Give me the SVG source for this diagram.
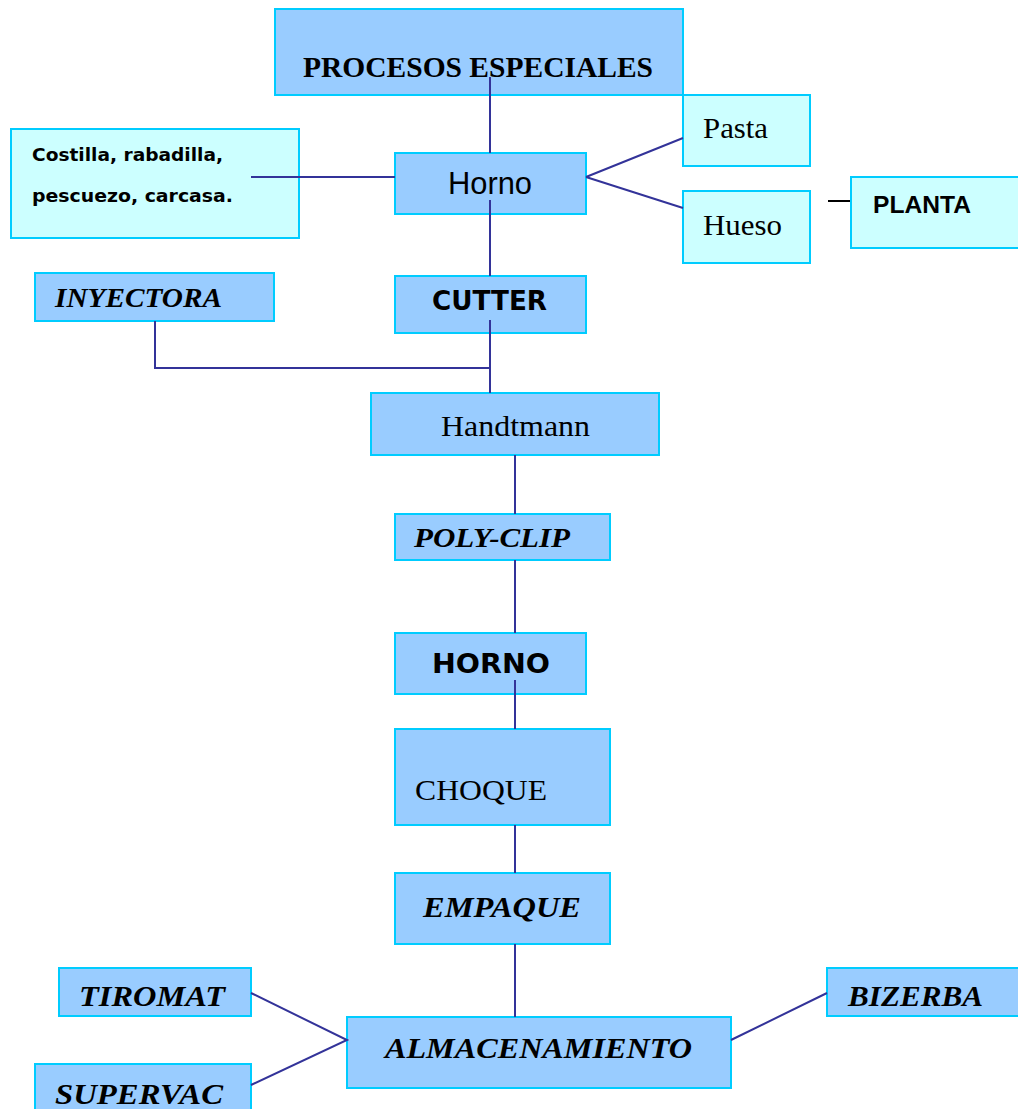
<svg xmlns="http://www.w3.org/2000/svg" width="1018" height="1109" viewBox="0 0 1018 1109">
<style>
.b{fill:#99CCFF;stroke:#00CCFF;stroke-width:2}
.l{fill:#CCFFFF;stroke:#00CCFF;stroke-width:2}
.c{stroke:#333399;stroke-width:2;fill:none}
.serif{font-family:"Liberation Serif","Times New Roman",serif;fill:#000}
.sans{font-family:"Liberation Sans",Arial,sans-serif;fill:#000}
.ver{font-family:"DejaVu Sans",Verdana,sans-serif;font-weight:bold;fill:#000}
.bi{font-family:"Liberation Serif","Times New Roman",serif;font-weight:bold;font-style:italic;fill:#000}
</style>
<rect width="1018" height="1109" fill="#fff"/>
<g id="n-procesos"><rect class="b" x="275" y="9" width="408" height="86"/><text class="serif" font-weight="bold" x="303" y="77" font-size="30" textLength="350" lengthAdjust="spacingAndGlyphs">PROCESOS ESPECIALES</text></g>
<g id="n-costilla"><rect class="l" x="11" y="129" width="288" height="109"/><text class="ver" x="32" y="161" font-size="18" textLength="191" lengthAdjust="spacingAndGlyphs">Costilla, rabadilla,</text><text class="ver" x="32" y="202" font-size="18" textLength="201" lengthAdjust="spacingAndGlyphs">pescuezo, carcasa.</text></g>
<g id="n-horno1"><rect class="b" x="395" y="153" width="191" height="61"/><text class="sans" x="448" y="194" font-size="31" textLength="84" lengthAdjust="spacingAndGlyphs">Horno</text></g>
<g id="n-pasta"><rect class="l" x="683" y="95" width="127" height="71"/><text class="serif" x="703" y="138" font-size="30" textLength="65" lengthAdjust="spacingAndGlyphs">Pasta</text></g>
<g id="n-hueso"><rect class="l" x="683" y="191" width="127" height="72"/><text class="serif" x="703" y="235" font-size="30" textLength="79" lengthAdjust="spacingAndGlyphs">Hueso</text></g>
<g id="n-planta"><rect class="l" x="851" y="177" width="170" height="71"/><text class="sans" font-weight="bold" x="873" y="213" font-size="24" textLength="98" lengthAdjust="spacingAndGlyphs">PLANTA</text></g>
<g id="n-inyectora"><rect class="b" x="35" y="273" width="239" height="48"/><text class="bi" x="55" y="307" font-size="28" textLength="167" lengthAdjust="spacingAndGlyphs">INYECTORA</text></g>
<g id="n-cutter"><rect class="b" x="395" y="276" width="191" height="57"/><text class="ver" x="432" y="310" font-size="27" textLength="115" lengthAdjust="spacingAndGlyphs">CUTTER</text></g>
<g id="n-handtmann"><rect class="b" x="371" y="393" width="288" height="62"/><text class="serif" x="441" y="436" font-size="30" textLength="149" lengthAdjust="spacingAndGlyphs">Handtmann</text></g>
<g id="n-polyclip"><rect class="b" x="395" y="514" width="215" height="46"/><text class="bi" x="414" y="547" font-size="28" textLength="156" lengthAdjust="spacingAndGlyphs">POLY-CLIP</text></g>
<g id="n-horno2"><rect class="b" x="395" y="633" width="191" height="61"/><text class="ver" x="432" y="673" font-size="27" textLength="118" lengthAdjust="spacingAndGlyphs">HORNO</text></g>
<g id="n-choque"><rect class="b" x="395" y="729" width="215" height="96"/><text class="serif" x="415" y="800" font-size="30" textLength="132" lengthAdjust="spacingAndGlyphs">CHOQUE</text></g>
<g id="n-empaque"><rect class="b" x="395" y="873" width="215" height="71"/><text class="bi" x="423" y="917" font-size="30" textLength="158" lengthAdjust="spacingAndGlyphs">EMPAQUE</text></g>
<g id="n-almacenamiento"><rect class="b" x="347" y="1017" width="384" height="71"/><text class="bi" x="385" y="1058" font-size="30" textLength="307" lengthAdjust="spacingAndGlyphs">ALMACENAMIENTO</text></g>
<g id="n-tiromat"><rect class="b" x="59" y="968" width="192" height="48"/><text class="bi" x="79" y="1006" font-size="30" textLength="146" lengthAdjust="spacingAndGlyphs">TIROMAT</text></g>
<g id="n-supervac"><rect class="b" x="35" y="1064" width="216" height="50"/><text class="bi" x="55" y="1104" font-size="30" textLength="168" lengthAdjust="spacingAndGlyphs">SUPERVAC</text></g>
<g id="n-bizerba"><rect class="b" x="827" y="968" width="195" height="48"/><text class="bi" x="848" y="1006" font-size="30" textLength="135" lengthAdjust="spacingAndGlyphs">BIZERBA</text></g>
<g id="connectors">
<path class="c" d="M490 77V153"/>
<path class="c" d="M251 177H395"/>
<path class="c" d="M586 177L683 138M586 177L683 208"/>
<path d="M828 201H850" stroke="#000" stroke-width="2"/>
<path class="c" d="M490 200V276"/>
<path class="c" d="M155 321V368H490M490 320V393"/>
<path class="c" d="M515 455V514M515 560V633M515 680V729M515 825V873M515 944V1017"/>
<path class="c" d="M251 993L347 1040L251 1085M731 1040L827 993"/>
</g>
</svg>
